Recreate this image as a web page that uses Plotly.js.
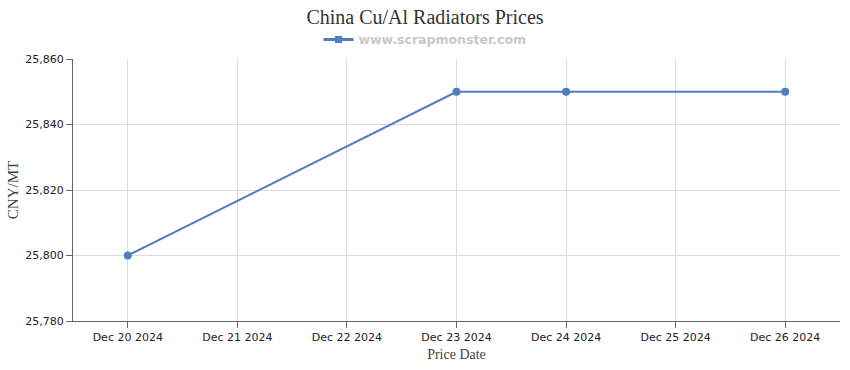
<!DOCTYPE html>
<html><head><meta charset="utf-8">
<script src="https://cdn.plot.ly/plotly-3.0.1.min.js"></script>
<style>html,body{margin:0;padding:0;background:#fff}</style>
</head><body><div id="chart" style="width:850px;height:370px"></div>
<script>
const dates = ['2024-12-20', '2024-12-23', '2024-12-24', '2024-12-26'];
const prices = [25800, 25850, 25850, 25850];
const seriesName = 'www.scrapmonster.com';
const lineColor = '#4f7fbd';

const trace = {
  x: dates, y: prices, type: 'scatter', mode: 'lines+markers', name: seriesName,
  line: {color: lineColor, width: 2},
  marker: {color: lineColor, size: 8, symbol: 'circle'},
  showlegend: false
};
const legendTrace = {
  x: [null], y: [null], type: 'scatter', mode: 'lines+markers', name: seriesName,
  line: {color: lineColor, width: 3},
  marker: {color: lineColor, size: 7, symbol: 'square'},
  showlegend: true
};
const layout = {
  width: 850, height: 370,
  margin: {l: 73, r: 10, t: 59, b: 49},
  paper_bgcolor: '#fff', plot_bgcolor: '#fff',
  title: {text: 'China Cu/Al Radiators Prices', xref: 'container', x: 0.5, xanchor: 'center',
    yref: 'container', y: 0.955, yanchor: 'middle',
    font: {family: 'Liberation Serif, serif', size: 20, color: '#333'}},
  showlegend: true,
  legend: {orientation: 'h', xref: 'container', x: 0.5, xanchor: 'center',
    yref: 'container', y: 0.892, yanchor: 'middle',
    font: {family: 'DejaVu Sans, sans-serif', size: 12.5, color: '#c8c8c8', weight: 'bold'},
    itemwidth: 30},
  xaxis: {type: 'date', range: ['2024-12-19 12:00', '2024-12-26 12:00'],
    dtick: 86400000, tick0: '2024-12-20', tickformat: '%b %d %Y',
    showgrid: true, gridcolor: '#dcdcdc', showline: true, linecolor: '#666', linewidth: 1,
    ticks: 'outside', ticklen: 6, tickcolor: '#666',
    tickfont: {family: 'DejaVu Sans, sans-serif', size: 11, color: '#222'},
    title: {text: 'Price Date', standoff: 5, font: {family: 'Liberation Serif, serif', size: 14, color: '#444'}},
    zeroline: false},
  yaxis: {range: [25780, 25860], dtick: 20, tickformat: ',d',
    showgrid: true, gridcolor: '#dcdcdc', showline: true, linecolor: '#666', linewidth: 1,
    ticks: 'outside', ticklen: 6, tickcolor: '#666',
    tickfont: {family: 'DejaVu Sans, sans-serif', size: 11, color: '#222'},
    title: {text: 'CNY/MT', standoff: 3, font: {family: 'Liberation Serif, serif', size: 15, color: '#444'}},
    zeroline: false}
};
Plotly.newPlot('chart', [trace, legendTrace], layout, {displayModeBar: false, staticPlot: true});
</script></body></html>
